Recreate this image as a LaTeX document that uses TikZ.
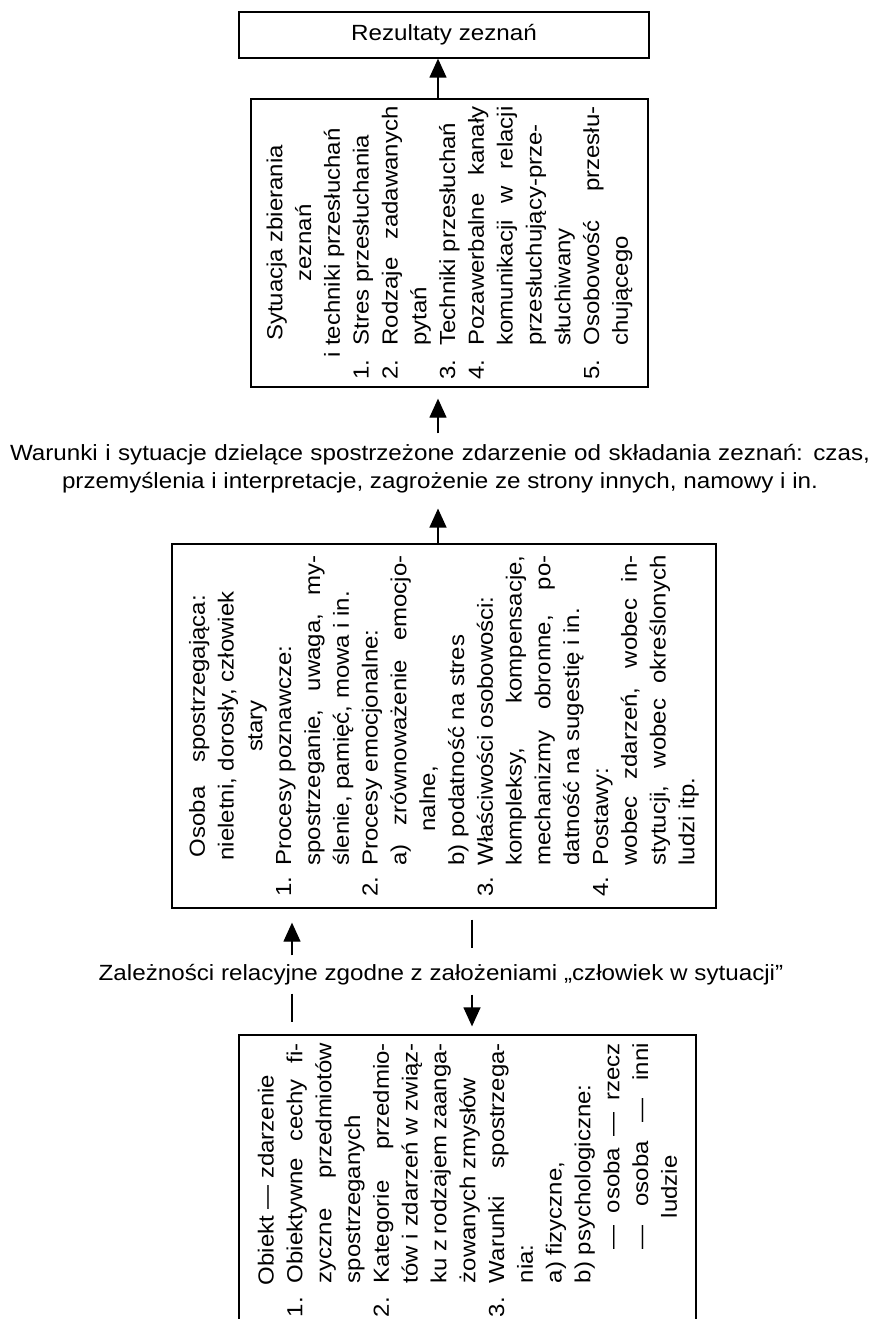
\documentclass[tikz,border=0pt]{standalone}
\usepackage{fontspec}
\setmainfont{Liberation Sans}[FakeStretch=1.1]
\usetikzlibrary{arrows.meta}
\newlength{\numw}
\newlength{\txtw}
\newcommand{\nr}[1]{\makebox[\numw][l]{#1}}
\newcommand{\ind}{\hspace*{\numw}}
\newcommand{\jst}[1]{\makebox[\txtw][s]{#1}}
\newcommand{\hd}[1]{\makebox[\linewidth][c]{#1}}
\newcommand{\vlist}[3]{\rotatebox{90}{\begin{minipage}{#1}%
  \setlength{\numw}{#2}\setlength{\txtw}{\dimexpr#1-#2\relax}%
  \fontsize{21.8pt}{28.8pt}\selectfont #3\end{minipage}}}

\begin{document}
\begin{tikzpicture}[x=1pt,y=-1pt,
  box/.style={draw, line width=1.3pt, inner sep=0pt},
  lbl/.style={inner sep=0pt, align=center, font=\fontsize{22pt}{28pt}\selectfont},
  arr/.style={-{Triangle[length=19pt,width=17pt]}, line width=1.3pt},
  link/.style={line width=1.1pt}]
\useasboundingbox (0,0) rectangle (880,1319);
\clip (0,0) rectangle (880,1319);
\node[box, lbl, minimum width=410pt, minimum height=46pt] (res) at (444,35) {Rezultaty zeznań};
\node[box, minimum width=397pt, minimum height=288pt] (sit) at (449.5,243) {\vlist{273pt}{34pt}{%
\hd{Sytuacja zbierania}\\
\hd{zeznań}\\
\hd{i techniki przesłuchań}\\
\nr{1.}Stres przesłuchania\\
\nr{2.}\jst{Rodzaje zadawanych}\\
\ind pytań\\
\nr{3.}Techniki przesłuchań\\
\nr{4.}\jst{Pozawerbalne kanały}\\
\ind\jst{komunikacji w relacji}\\
\ind przesłuchujący-prze-\\
\ind słuchiwany\\
\nr{5.}\jst{Osobowość przesłu-}\\
\ind chującego}};
\node[lbl] (cond) at (440,469) {\makebox[860pt][s]{Warunki i sytuacje dzielące spostrzeżone zdarzenie od składania zeznań: czas,}\\
przemyślenia i interpretacje, zagrożenie ze strony innych, namowy i in.};
\node[box, minimum width=544pt, minimum height=364pt] (per) at (444,726) {\vlist{341pt}{31pt}{%
\hd{\makebox[262pt][s]{Osoba spostrzegająca:}}\\
\hd{nieletni, dorosły, człowiek}\\
\hd{stary}\\
\nr{1.}Procesy poznawcze:\\
\ind\jst{spostrzeganie, uwaga, my-}\\
\ind ślenie, pamięć, mowa i in.\\
\nr{2.}Procesy emocjonalne:\\
\ind\jst{a) zrównoważenie emocjo-}\\
\ind\hspace*{34pt}nalne,\\
\ind b) podatność na stres\\
\nr{3.}Właściwości osobowości:\\
\ind\jst{kompleksy, kompensacje,}\\
\ind\jst{mechanizmy obronne, po-}\\
\ind datność na sugestię i in.\\
\nr{4.}Postawy:\\
\ind\jst{wobec zdarzeń, wobec in-}\\
\ind\jst{stytucji, wobec określonych}\\
\ind ludzi itp.}};
\node[lbl] (rel) at (441,975) {Zależności relacyjne zgodne z założeniami „człowiek w sytuacji”};
\node[box, minimum width=457pt, minimum height=290pt] (obj) at (467.5,1180) {\vlist{274pt}{34pt}{%
\hd{Obiekt — zdarzenie}\\
\nr{1.}\jst{Obiektywne cechy fi-}\\
\ind\jst{zyczne przedmiotów}\\
\ind spostrzeganych\\
\nr{2.}\jst{Kategorie przedmio-}\\
\ind\jst{tów i zdarzeń w związ-}\\
\ind\jst{ku z rodzajem zaanga-}\\
\ind żowanych zmysłów\\
\nr{3.}\jst{Warunki spostrzega-}\\
\ind nia:\\
\ind a) fizyczne,\\
\ind b) psychologiczne:\\
\ind\hspace*{34pt}\makebox[206pt][s]{— osoba — rzecz}\\
\ind\hspace*{34pt}\makebox[206pt][s]{— osoba — inni}\\
\ind\hspace*{65pt}ludzie}};
\coordinate (ax) at (438,0);
\coordinate (lx) at (292,0);
\coordinate (rx) at (472,0);
% connectors
\draw[arr] (sit.north -| ax) -- (res.south -| ax);
\draw[arr, shorten <=11pt, shorten >=11pt] (cond.north -| ax) -- (sit.south -| ax);
\draw[arr, shorten >=15pt] (per.north -| ax) -- (cond.south -| ax);
\draw[arr, shorten <=9pt, shorten >=14pt] (rel.north -| lx) -- (per.south -| lx);
\draw[link, shorten <=11pt, shorten >=16pt] (per.south -| rx) -- (rel.north -| rx);
\draw[link, shorten <=8pt, shorten >=12pt] (rel.south -| lx) -- (obj.north -| lx);
\draw[arr, shorten <=9pt, shorten >=8pt] (rel.south -| rx) -- (obj.north -| rx);
\end{tikzpicture}
\end{document}
